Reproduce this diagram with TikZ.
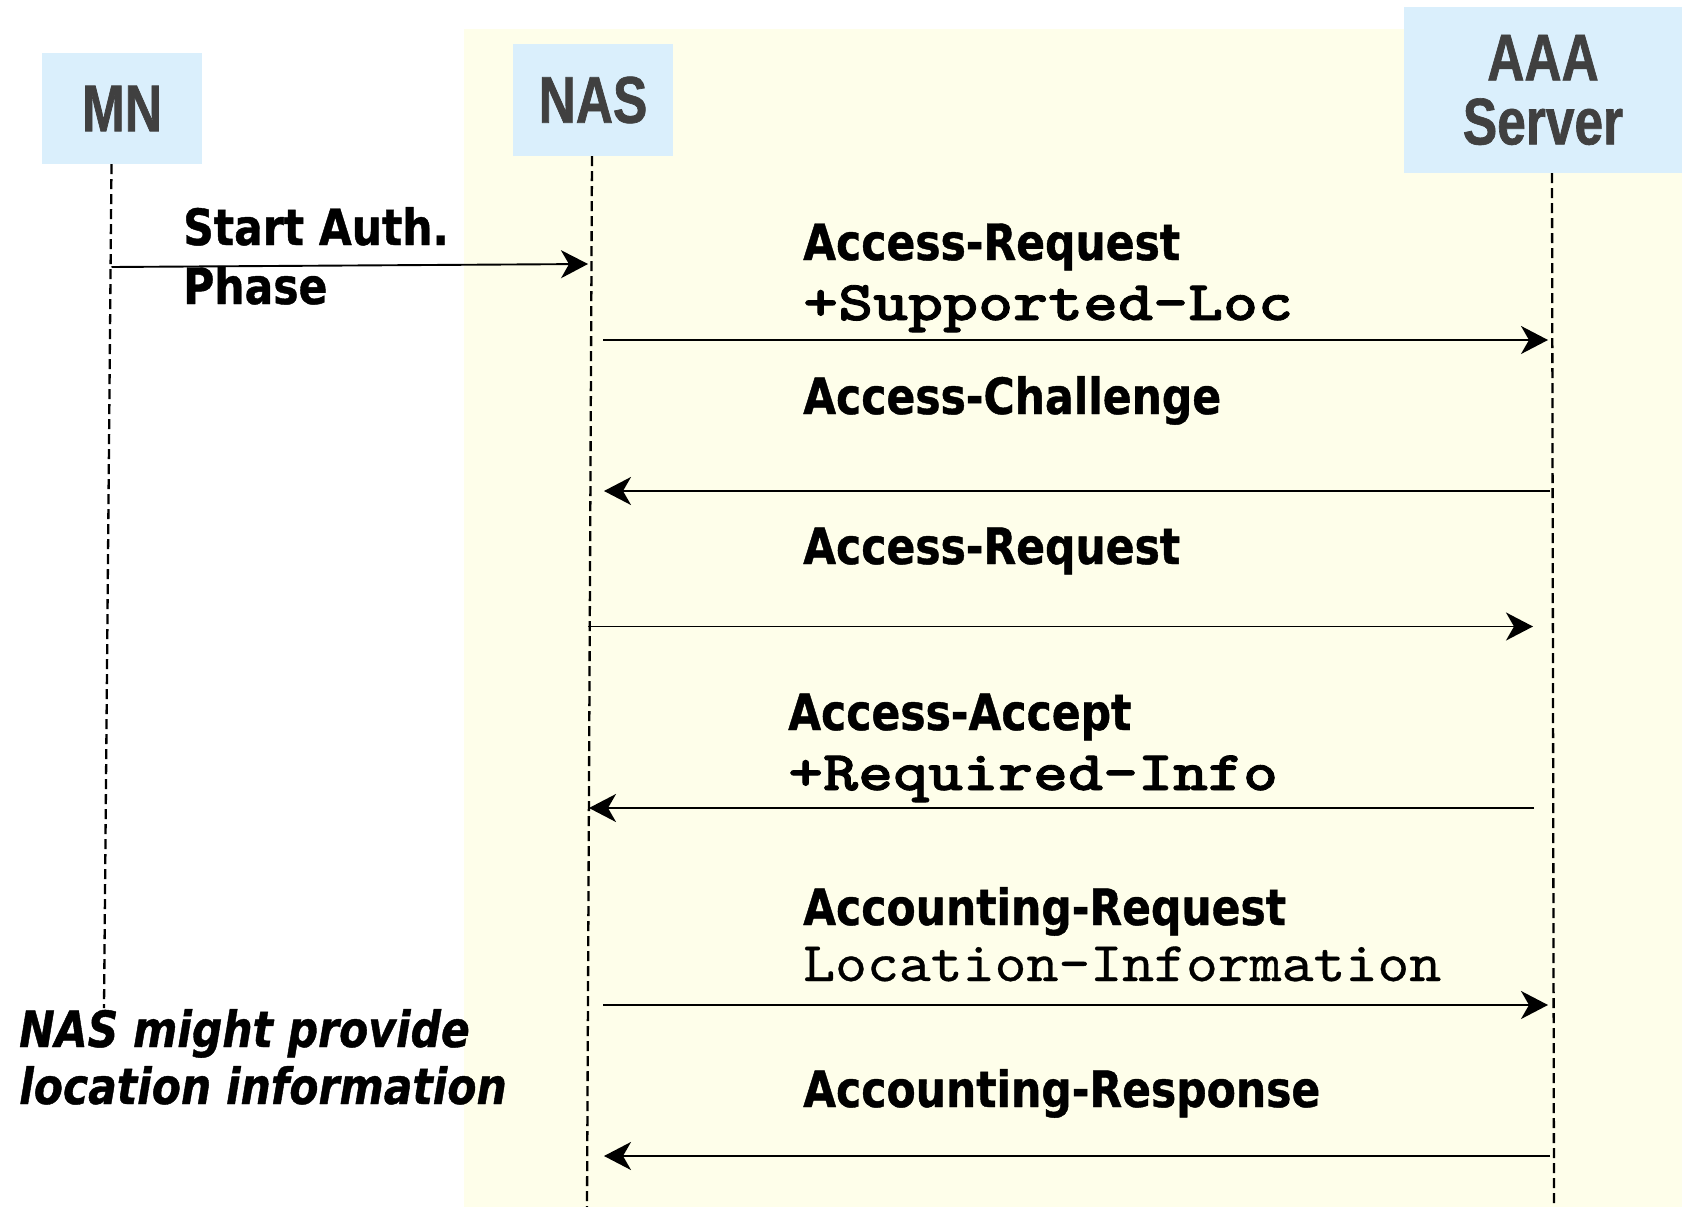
\documentclass[tikz,border=0pt]{standalone}
\usepackage{fontspec}
\usetikzlibrary{arrows.meta}
\newfontfamily\lblfont{DejaVu Sans}[FakeStretch=0.85,FakeBold=0.8]
\newfontfamily\ttlfont{Liberation Sans}[FakeStretch=0.78,FakeBold=1]
\newfontfamily\monofontb{lmmonolt10-bold}[Extension=.otf,FakeStretch=1.19,FakeBold=1.5]
\newfontfamily\monofontn{lmmono10-regular}[Extension=.otf,FakeStretch=1.085,FakeBold=0.6]
\definecolor{boxblue}{HTML}{DAEFFC}
\definecolor{bgyellow}{HTML}{FEFEEA}
\definecolor{ttlgray}{HTML}{404040}
\begin{document}
\begin{tikzpicture}[x=1pt,y=-1pt,
  actor/.style={fill=boxblue,draw=none,inner sep=0pt,text=ttlgray,align=center,
    font=\ttlfont\bfseries\fontsize{66}{64}\selectfont},
  life/.style={draw=black,line width=2.3pt,dash pattern=on 10pt off 5pt},
  msg/.style={draw=black,line width=1.9pt,-{Stealth[length=27pt,width=28pt,inset=8pt]}},
  lbl/.style={anchor=base west,inner sep=0pt,font=\lblfont\bfseries\fontsize{50}{50}\selectfont},
  ilbl/.style={anchor=base west,inner sep=0pt,font=\lblfont\bfseries\itshape\fontsize{50}{50}\selectfont},
  mlbl/.style={anchor=base west,inner sep=0pt,font=\monofontb\fontsize{56}{56}\selectfont},
  mnlbl/.style={anchor=base west,inner sep=0pt,font=\monofontn\fontsize{56}{56}\selectfont}]
\useasboundingbox (0,0) rectangle (1682,1207);
\fill[white] (0,0) rectangle (1682,1207);
\fill[bgyellow] (464,29) rectangle (1682,1207);

% actors
\node[actor,minimum width=160pt,minimum height=111pt] (mn) at (122,108.5) {MN};
\node[actor,minimum width=160pt,minimum height=112pt] (nas) at (593,100) {NAS};
\node[actor,minimum width=278pt,minimum height=166pt] (aaa) at (1543,90) {AAA\\Server};

% lifeline ends
\coordinate (mnend) at (104,1008);
\coordinate (nasend) at (587,1207);
\coordinate (aaaend) at (1554,1207);
\draw[life] ([xshift=-10.5pt]mn.south) -- (mnend);
\draw[life] ([xshift=-1pt]nas.south) -- (nasend);
\draw[life] ([xshift=9pt]aaa.south) -- (aaaend);

% message end points
\coordinate (m1a) at (111.5,267); \coordinate (m1b) at (588,264);
\coordinate (m2a) at (603,340);   \coordinate (m2b) at (1548,340);
\coordinate (m3a) at (1550,491);  \coordinate (m3b) at (604,491);
\coordinate (m4a) at (588,626.5); \coordinate (m4b) at (1533,626.5);
\coordinate (m5a) at (1534,808);  \coordinate (m5b) at (589,808);
\coordinate (m6a) at (603,1005);  \coordinate (m6b) at (1548,1005);
\coordinate (m7a) at (1550,1156); \coordinate (m7b) at (604,1156);
\draw[msg] (m1a) -- (m1b);
\draw[msg] (m2a) -- (m2b);
\draw[msg] (m3a) -- (m3b);
\draw[msg] (m4a) -- (m4b);
\draw[msg] (m5a) -- (m5b);
\draw[msg] (m6a) -- (m6b);
\draw[msg] (m7a) -- (m7b);

% labels
\node[lbl] (t1) at (183,245) {Start Auth.};
\node[lbl] (t1b) at (183,304) {Phase};
\node[lbl] (t2) at (803,260) {Access-Request};
\node[mlbl] (t2b) at (803,320) {+Supported-Loc};
\node[lbl] (t3) at (803,414) {Access-Challenge};
\node[lbl] (t4) at (803,564) {Access-Request};
\node[lbl] (t5) at (788,730) {Access-Accept};
\node[mlbl] (t5b) at (788,790) {+Required-Info};
\node[lbl] (t6) at (803,925) {Accounting-Request};
\node[mnlbl] (t6b) at (803,981) {Location-Information};
\node[lbl] (t7) at (803,1107) {Accounting-Response};
\node[ilbl] (n1) at (19,1047) {NAS might provide};
\node[ilbl] (n2) at (19,1104) {location information};
\end{tikzpicture}
\end{document}
